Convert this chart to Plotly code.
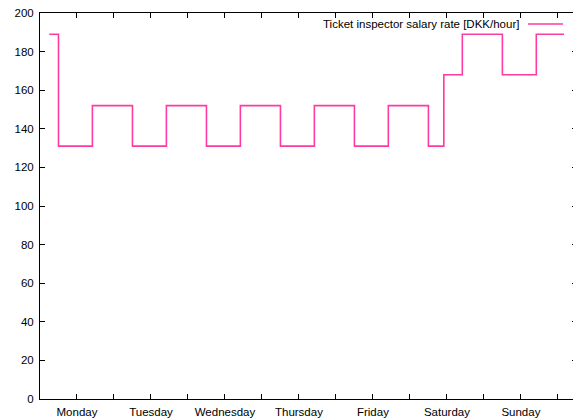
import plotly.graph_objects as go

# Step breakpoints (hours from Monday 00:00) and salary rates (DKK/hour)
hours = [3, 6, 17, 30, 41, 54, 65, 78, 89, 102, 113, 126, 131, 137, 150, 161, 170]
rates = [189, 131, 152, 131, 152, 131, 152, 131, 152, 131, 152, 131, 168, 189, 168, 189, 189]

series_name = "Ticket inspector salary rate [DKK/hour]"
day_names = ["Monday", "Tuesday", "Wednesday", "Thursday", "Friday", "Saturday", "Sunday"]

tick_positions = list(range(0, 169, 12))
tick_labels = []
for t in tick_positions:
    if t % 24 == 12:
        tick_labels.append(day_names[t // 24])
    else:
        tick_labels.append("")

y_ticks = list(range(0, 201, 20))

LINE_COLOR = "#ff3aa0"
FONT = "Liberation Sans, Arial, Helvetica, sans-serif"

# The page body has an 8px default margin; size the figure to fill the rest.
fig = go.Figure()
fig.add_trace(go.Scatter(
    x=hours, y=rates, mode="lines", line=dict(color=LINE_COLOR, width=1.6, shape="hv"),
    name=series_name, showlegend=False, hoverinfo="skip",
))

fig.update_layout(
    width=573, height=410,
    margin=dict(l=32, r=4, t=5, b=19, autoexpand=False),
    paper_bgcolor="white", plot_bgcolor="white",
    font=dict(family=FONT, size=11.5, color="#000000"),
    xaxis=dict(
        range=[0, 174.2], tickvals=tick_positions, ticktext=tick_labels,
        ticks="inside", ticklen=5, tickwidth=1, tickcolor="#000",
        showline=True, linecolor="#000", linewidth=1, mirror="allticks",
        showgrid=False, zeroline=False, fixedrange=True, automargin=False,
        ticklabeloverflow="allow", ticklabelstandoff=2,
    ),
    yaxis=dict(
        range=[0, 200], tickvals=y_ticks,
        ticks="inside", ticklen=5, tickwidth=1, tickcolor="#000",
        showline=True, linecolor="#000", linewidth=1, mirror="allticks",
        showgrid=False, zeroline=False, fixedrange=True, automargin=False,
        ticklabeloverflow="allow", ticklabelstandoff=3,
    ),
    showlegend=False,
)

# gnuplot-style key: text then line sample, top right inside the plot
fig.add_annotation(
    xref="paper", yref="paper", x=(520.7 - 40) / 537, y=(399 - 24) / 386,
    text=series_name, showarrow=False, xanchor="right", yanchor="middle",
    font=dict(family=FONT, size=11.5, color="#000"),
)
fig.add_shape(
    type="line", xref="paper", yref="paper",
    x0=(528 - 40) / 537, x1=(563 - 40) / 537,
    y0=(399 - 24) / 386, y1=(399 - 24) / 386,
    line=dict(color=LINE_COLOR, width=1.6),
)

fig.write_html("out.html")
